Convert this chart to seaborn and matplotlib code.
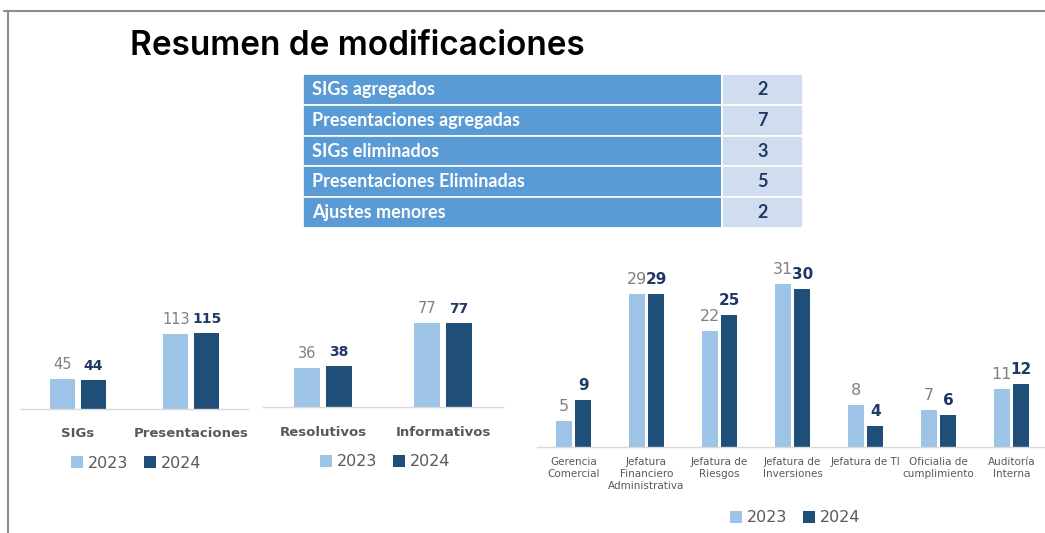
import pandas as pd
import matplotlib.pyplot as plt
from matplotlib.lines import Line2D
import seaborn as sns

sns.set_style("white")
plt.rcParams['font.family'] = ['DejaVu Sans']

# datos
anios = ['2023', '2024']
tipos = ['SIGs', 'Presentaciones']
tipos_2023 = [45, 113]
tipos_2024 = [44, 115]
sesiones = ['Resolutivos', 'Informativos']
sesiones_2023 = [36, 77]
sesiones_2024 = [38, 77]
areas = ['Gerencia\nComercial', 'Jefatura\nFinanciero\nAdministrativa', 'Jefatura de\nRiesgos',
         'Jefatura de\nInversiones', 'Jefatura de TI', 'Oficialia de\ncumplimiento', 'Auditoría\nInterna']
areas_2023 = [5, 29, 22, 31, 8, 7, 11]
areas_2024 = [9, 29, 25, 30, 4, 6, 12]
resumen_items = ['SIGs agregados', 'Presentaciones agregadas', 'SIGs eliminados',
                 'Presentaciones Eliminadas', 'Ajustes menores']
resumen_vals = [2, 7, 3, 5, 2]

colores = ['#9DC3E6', '#1F4E79']
gris = '#595959'
W, H = 1045, 533


def caja(x0, y0, x1, y1):
    return [x0 / W, 1 - y1 / H, (x1 - x0) / W, (y1 - y0) / H]


fig = plt.figure(figsize=(W / 100, H / 100), dpi=100)

# marco
fig.add_artist(Line2D([4 / W, 1], [1 - 11 / H] * 2, color='#8C8C8C', lw=1.5, transform=fig.transFigure))
fig.add_artist(Line2D([8 / W] * 2, [1 - 11 / H, 0], color='#8C8C8C', lw=1.5, transform=fig.transFigure))

fig.text(130 / W, 1 - 46 / H, 'Resumen de modificaciones', fontsize=24, fontweight='semibold',
         family='Inter', va='center', ha='left', color='black')

# tabla resumen
axt = fig.add_axes(caja(303, 74, 803, 228))
axt.axis('off')
tabla = axt.table(cellText=[[t, str(v)] for t, v in zip(resumen_items, resumen_vals)],
                  colWidths=[419 / 500, 81 / 500], bbox=[0, 0, 1, 1], cellLoc='left')
tabla.auto_set_font_size(False)
for (r, c), cell in tabla.get_celld().items():
    cell.set_edgecolor('white')
    cell.set_linewidth(1.2)
    txt = cell.get_text()
    txt.set_fontfamily('Lato')
    txt.set_fontweight('bold')
    txt.set_fontsize(13)
    if c == 0:
        cell.set_facecolor('#5B9BD5')
        txt.set_color('white')
        cell.PAD = 0.021
    else:
        cell.set_facecolor('#D0DDEF')
        txt.set_color('#1F3864')
        txt.set_ha('center')
        cell._loc = 'center'


def grafico(ax, cats, v23, v24, ymax, lab_size, lab_bold, lab_pad, val_size, leg_y, leg_x):
    n = len(cats)
    df = pd.DataFrame({'cat': cats * 2, 'anio': [anios[0]] * n + [anios[1]] * n, 'val': v23 + v24})
    sns.barplot(data=df, x='cat', y='val', hue='anio', palette=colores, saturation=1,
                width=0.54, gap=0.18, linewidth=0, legend=False, ax=ax)
    ax.bar_label(ax.containers[0], labels=[str(v) for v in v23], color='#808080',
                 fontsize=val_size, padding=5)
    ax.bar_label(ax.containers[1], labels=[str(v) for v in v24], color='#1F3864',
                 fontsize=val_size - 0.5, fontweight='bold', padding=5)
    ax.set_ylim(0, ymax)
    ax.set_xlim(-0.5, n - 0.5)
    ax.set_xlabel('')
    ax.set_ylabel('')
    ax.set_yticks([])
    for s in ['top', 'left', 'right']:
        ax.spines[s].set_visible(False)
    ax.spines['bottom'].set_color('#D9D9D9')
    ax.spines['bottom'].set_linewidth(1)
    ax.tick_params(axis='x', length=0, pad=lab_pad, labelsize=lab_size, labelcolor=gris)
    for t in ax.get_xticklabels():
        t.set_fontweight('bold' if lab_bold else 'normal')
        t.set_linespacing(1.25)
    ax.patch.set_alpha(0)
    ax.legend(ax.containers, anios, loc='center', ncol=2, frameon=False,
              bbox_to_anchor=(leg_x / W, 1 - leg_y / H), bbox_transform=fig.transFigure,
              fontsize=11.5, labelcolor=gris, handlelength=0.75, handleheight=0.75,
              handletextpad=0.3, columnspacing=1.0)


ax1 = fig.add_axes(caja(21, 300, 248, 409))
grafico(ax1, tipos, tipos_2023, tipos_2024, 109 * 1.505, 9.5, True, 13, 10.5, 463, 136)

ax2 = fig.add_axes(caja(263, 300, 503, 407))
grafico(ax2, sesiones, sesiones_2023, sesiones_2024, 107 * 0.917, 9.5, True, 14, 10.5, 462, 385)

ax3 = fig.add_axes(caja(537, 270, 1048, 447))
grafico(ax3, areas, areas_2023, areas_2024, 177 * 0.19, 7.5, False, 7, 11.5, 518, 795)

fig.savefig('out.png', dpi=100, facecolor='white')
